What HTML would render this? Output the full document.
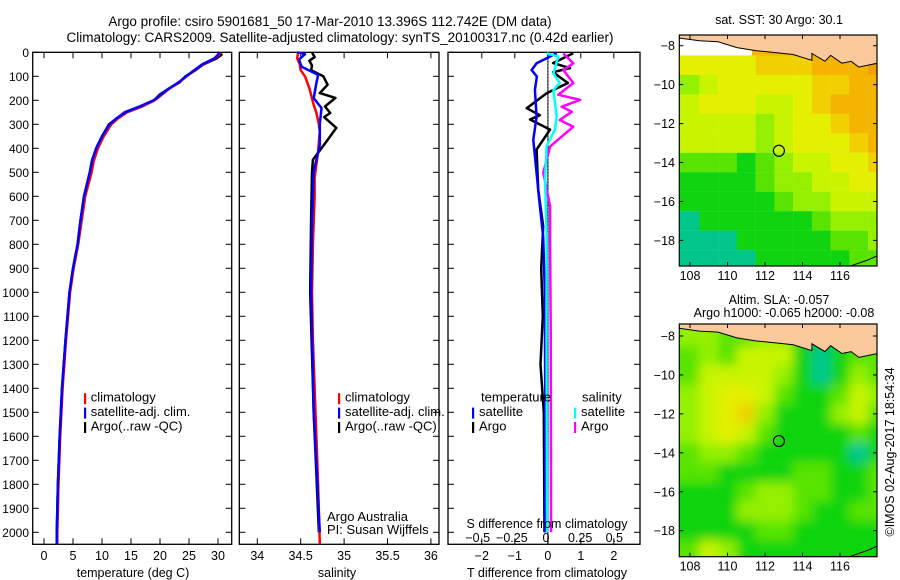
<!DOCTYPE html>
<html><head><meta charset="utf-8"><style>
html,body{margin:0;padding:0;background:#fff;}
svg{display:block;font-family:"Liberation Sans",sans-serif;}
</style></head><body>
<svg id="c" width="900" height="580" viewBox="0 0 900 580" xmlns="http://www.w3.org/2000/svg"></svg>
<script>
// ---------- data ----------
const tDepth=[0,10,25,50,75,100,125,150,175,200,225,250,275,300,350,400,450,500,600,700,800,900,1000,1200,1400,1600,1800,2000,2050];
const tClim=[30.3,30.2,29.5,27.4,26,24.6,23.3,21.7,20.4,19.1,17,14.3,12.8,11.6,10.3,9.3,8.6,8.2,7.1,6.5,5.9,5.1,4.5,3.8,3.2,2.8,2.5,2.3,2.3];
const tSat=[30.2,30.0,29.4,27.3,25.9,24.5,23.2,21.6,20.2,18.9,16.6,14.0,12.5,11.3,10.0,9.0,8.3,7.9,6.9,6.3,5.8,5.0,4.4,3.7,3.1,2.7,2.4,2.2,2.2];
const tArgo=[30.0,30.6,29.8,27.5,26.1,24.4,23.4,21.6,20.0,19.0,16.6,13.9,12.6,11.2,10.0,9.0,8.3,7.9,6.9,6.3,5.8,5.0,4.4,3.7,3.1,2.7,2.4,2.2,2.2];

const sClimD=[0,25,50,75,100,150,219,250,300,330,414,524,600,800,1000,1200,1500,1800,2050];
const sClim=[34.47,34.46,34.49,34.5,34.55,34.6,34.65,34.68,34.71,34.72,34.7,34.66,34.66,34.64,34.63,34.64,34.67,34.70,34.72];
const sSatD=[0,8,30,60,94,130,191,232,300,386,497,700,1000,1500,2000];
const sSat=[34.46,34.55,34.48,34.51,34.7,34.68,34.65,34.74,34.72,34.72,34.65,34.63,34.62,34.65,34.72];
const sArgoD=[0,20,35,55,75,100,135,170,190,226,253,270,315,380,448,500,700,1000,1500,2000];
const sArgo=[34.63,34.66,34.6,34.63,34.62,34.76,34.81,34.72,34.9,34.78,34.84,34.77,34.91,34.78,34.64,34.63,34.62,34.61,34.65,34.71];

const dtSatD=[4,46,74,101,157,268,365,504,643,768,1000,1400,2000];
const dtSat=[0.27,-0.34,-0.49,-0.33,-0.39,-0.34,-0.44,-0.34,-0.24,-0.14,-0.09,-0.08,-0.08];
const dtArgoD=[4,45,66,83,128,170,233,262,280,322,405,572,726,900,1100,1300,1500,2000];
const dtArgo=[0.77,0.16,0.67,0.16,0.61,-0.03,-0.64,-0.24,-0.54,0.07,-0.34,-0.29,-0.14,-0.2,-0.15,-0.22,-0.12,-0.1];
const dsSatD=[4,18,88,128,157,268,322,390,530,760,1200,2000];
const dsSat=[0.005,0.09,0.054,0.1,0.054,0.078,0.066,0.005,-0.007,0.005,0.004,0.007];
const dsArgoD=[4,46,74,128,177,198,227,248,282,310,392,502,642,782,1200,2000];
const dsArgo=[0.127,0.2,0.127,0.2,0.09,0.25,0.115,0.188,0.1,0.2,0.03,-0.02,0.03,0.03,0.035,0.037];

const depthTicks=[0,100,200,300,400,500,600,700,800,900,1000,1100,1200,1300,1400,1500,1600,1700,1800,1900,2000];
const tTicks=[0,5,10,15,20,25,30];
const sTicks=[34,34.5,35,35.5,36];
const tdTicks=[-2,-1,0,1,2];
const sdTicks=[-0.5,-0.25,0,0.25,0.5];
const sdTickLabels=["\u22120.5","\u22120.25","0","0.25","0.5"];
const latTicks=[-8,-10,-12,-14,-16,-18];
const lonTicks=[108,110,112,114,116];

// map grids: rows lat -8..-19, cols lon 107.5..118 (1 degree cells), colour classes
const sstGrid=[
[6,6,6,7,7,7,7,7,8,8,8],
[5,5,5,5,6,6,6,7,7,7,8],
[3,4,5,5,5,5,5,6,6,7,7],
[4,5,5,5,4,4,5,6,7,7,7],
[4,4,4,4,3,4,5,5,6,7,7],
[4,4,4,4,3,4,5,5,5,6,7],
[2,2,2,1,2,3,4,4,5,5,6],
[1,1,1,1,2,3,3,4,4,5,5],
[1,1,1,1,1,2,3,3,4,4,4],
[0,1,1,1,1,1,1,2,3,3,3],
[0,0,0,1,1,1,1,1,2,2,3],
[0,0,0,0,1,1,1,1,1,2,2]];
const slaGrid=[
[3,3,2,2,3,3,1,1,1,1,2],
[2,3,2,4,4,4,1,0,1,2,2],
[2,4,4,4,4,3,1,0,1,3,2],
[3,4,5,5,4,2,1,1,2,4,3],
[3,4,5,6,3,1,1,1,3,4,2],
[3,4,5,4,2,1,1,1,1,2,1],
[2,3,3,2,1,1,1,1,1,0,1],
[2,2,1,1,1,1,2,2,1,1,2],
[1,1,1,2,3,3,2,2,1,1,2],
[1,1,1,3,3,3,2,1,1,2,2],
[1,1,1,1,2,2,1,1,1,1,1],
[2,4,3,1,1,1,1,1,1,1,1]];
const palette=["#00c68c","#10d410","#58e400","#94f000","#c8f400","#e4f000","#f0d000","#f4b400","#f0a000"];
const argoLon=112.742, argoLat=-13.396;

// ---------- helpers ----------
const NS="http://www.w3.org/2000/svg";
const svg=document.getElementById('c');
function mk(tag,attrs,parent){const e=document.createElementNS(NS,tag);for(const k in attrs)e.setAttribute(k,attrs[k]);(parent||svg).appendChild(e);return e;}
function txt(x,y,s,anchor,size,parent){const e=mk('text',{x:x,y:y,'font-size':size||13,'text-anchor':anchor||'start',fill:'#000'},parent);e.textContent=s;return e;}

const yTop=52.3, pxPerM=0.24;
const yD=d=>yTop+d*pxPerM;
const yBot=544.3;
const xT=v=>44+v*5.8;
const xS=v=>257.3+(v-34)*86.8;
const xTD=v=>547.8+v*33;
const xSD=v=>546+v*136.6;

function line(depths,vals,xf,color,name,w){
  let p='';for(let i=0;i<depths.length;i++){p+=(i?'L':'M')+xf(vals[i]).toFixed(1)+','+yD(depths[i]).toFixed(1);}
  const e=mk('path',{d:p,fill:'none',stroke:color,'stroke-width':w||2.5,'stroke-linejoin':'round'});
  
  
  return e;
}
function frame(x0,x1,name,xticks,xf){
  const g=mk('g',{});
  
  
  mk('rect',{x:x0,y:yTop,width:x1-x0,height:yBot-yTop,fill:'none',stroke:'#000','stroke-width':1.3},g);
  depthTicks.forEach(d=>{const y=yD(d);mk('line',{x1:x0,y1:y,x2:x0+6,y2:y,stroke:'#000'},g);mk('line',{x1:x1-6,y1:y,x2:x1,y2:y,stroke:'#000'},g);});
  xticks.forEach(v=>{const x=xf(v);mk('line',{x1:x,y1:yBot,x2:x,y2:yBot-6,stroke:'#000'},g);mk('line',{x1:x,y1:yTop,x2:x,y2:yTop+6,stroke:'#000'},g);});
  return g;
}

// titles
const t1=txt(330,26,'Argo profile: csiro 5901681_50 17-Mar-2010 13.396S 112.742E (DM data)','middle',13.5);

const t2=txt(340,42,'Climatology: CARS2009. Satellite-adjusted climatology: synTS_20100317.nc (0.42d earlier)','middle',13.5);


// depth labels
depthTicks.forEach(d=>{const e=txt(29,yD(d)+4.5,String(d),'end',12);
});

// panel 1 temperature
frame(32.7,231.7,'temperature-panel',tTicks,xT);
line(tDepth,tArgo,xT,'#000','temp-argo-line');
line(tDepth,tClim,xT,'#f00','temp-climatology-line');
line(tDepth,tSat,xT,'#00f','temp-satellite-line');
tTicks.forEach(v=>{const e=txt(xT(v),560,String(v),'middle',12.5);});
const xl1=txt(133,577,'temperature (deg C)','middle',12.5);

function legend(x,tx,items,name){
  const g=mk('g',{});
  
  
  items.forEach((it,i)=>{const yb=401.7+i*14.4;mk('rect',{x:x,y:yb-8.5,width:2.2,height:11,fill:it[0]},g);txt(tx,yb,it[1],'start',13,g);});
}
legend(84,90.7,[['#f00','climatology'],['#00f','satellite-adj. clim.'],['#000','Argo(..raw -QC)']],'temperature-legend');

// panel 2 salinity
frame(239.3,439,'salinity-panel',sTicks,xS);
line(sArgoD,sArgo,xS,'#000','salinity-argo-line');
line(sClimD,sClim,xS,'#f00','salinity-climatology-line');
line(sSatD,sSat,xS,'#00f','salinity-satellite-line');
sTicks.forEach(v=>{const e=txt(xS(v),560,String(v),'middle',12.5);});
const xl2=txt(337,577,'salinity','middle',12.5);
legend(338,345,[['#f00','climatology'],['#00f','satellite-adj. clim.'],['#000','Argo(..raw -QC)']],'salinity-legend');
const cr1=txt(327,521,'Argo Australia','start',13);
const cr2=txt(327,534,'PI: Susan Wijffels','start',13);

// panel 3 differences
frame(448,640,'difference-panel',tdTicks,xTD);
for(let d=0;d<=2050;d+=6){mk('rect',{x:547.3,y:yD(d),width:1.2,height:1.2,fill:'#000'});}
line(dtArgoD,dtArgo,xTD,'#000','tdiff-argo-line');
line(dtSatD,dtSat,xTD,'#00f','tdiff-satellite-line');
line(dsArgoD,dsArgo,xSD,'#f0f','sdiff-argo-line');
line(dsSatD,dsSat,xSD,'#0ff','sdiff-satellite-line');
tdTicks.forEach(v=>{const e=txt(xTD(v),560,String(v).replace('-','\u2212'),'middle',12.5);});
sdTicks.forEach((v,i)=>{const e=txt(xSD(v),542,sdTickLabels[i],'middle',12.5);});
const xl3=txt(547,577,'T difference from climatology','middle',12.5);
const xl4=txt(547,528,'S difference from climatology','middle',12.5);
{
  const g=mk('g',{});
  
  
  txt(481,401.7,'temperature','start',13,g);txt(582,401.7,'salinity','start',13,g);
  mk('rect',{x:472,y:407.6,width:2.2,height:11,fill:'#00f'},g);txt(479,416,'satellite','start',13,g);
  mk('rect',{x:574,y:407.6,width:2.2,height:11,fill:'#0ff'},g);txt(581,416,'satellite','start',13,g);
  mk('rect',{x:472,y:422,width:2.2,height:11,fill:'#000'},g);txt(479,430.5,'Argo','start',13,g);
  mk('rect',{x:574,y:422,width:2.2,height:11,fill:'#f0f'},g);txt(581,430.5,'Argo','start',13,g);
}

// ---------- maps ----------
function drawMap(y0,y1,latY0,grid,name,blur,whiteNoData){
  const x0=679.3,x1=877;
  const lonX=l=>690+(l-108)*18.75;
  const latY=la=>latY0+(-8-la)*19.47;
  const g=mk('g',{});
  
  
  const cid='clip'+name;
  const cp=mk('clipPath',{id:cid},g);mk('rect',{x:x0,y:y0,width:x1-x0,height:y1-y0},cp);
  const inner=mk('g',{'clip-path':'url(#'+cid+')'},g);
  if(blur){const f=mk('filter',{id:'bl'+name,x:'-10%',y:'-10%',width:'120%',height:'120%'},g);mk('feGaussianBlur',{stdDeviation:5.5},f);}
  const cells=mk('g',blur?{filter:'url(#bl'+name+')'}:{},inner);
  grid.forEach((row,r)=>row.forEach((v,c)=>{
    const lon=107.5+c, lat=-7.5-r;
    const cell=mk('rect',{x:lonX(lon)-(c===0?25:0),y:latY(lat+ (r===0?1.5:0)),width:18.9+(c===0?25:0)+(c===row.length-1?25:0),height:19.6+(r===0?30:0)+(r===grid.length-1?30:0),fill:palette[v]},cells);
    
  }));
  if(whiteNoData){mk('rect',{x:x0,y:y0,width:lonX(111.3)-x0,height:latY(-8.5)-y0,fill:'#fff'},inner);}
  const land=[[107,-7],[107,-7.55],[108.5,-7.75],[109.5,-7.8],[110.5,-8.1],[111.5,-8.25],[112.5,-8.35],[113.5,-8.45],[114.5,-8.75],[114.5,-8.4],[115.2,-8.8],[115.5,-8.5],[116.1,-8.9],[116.6,-8.8],[117,-9.1],[118,-8.9],[118.5,-8.7],[118.5,-7]];
  const lp=mk('polygon',{points:land.map(p=>lonX(p[0]).toFixed(1)+','+latY(p[1]).toFixed(1)).join(' '),fill:'#f9c99c',stroke:'#000','stroke-width':1},inner);
  
  mk('polyline',{points:[[116.3,-19.4],[117.5,-19],[118.2,-18.7]].map(p=>lonX(p[0])+','+latY(p[1])).join(' '),fill:'none',stroke:'#000'},inner);
  const circ=mk('circle',{cx:lonX(argoLon),cy:latY(argoLat),r:5.5,fill:'none',stroke:'#000','stroke-width':1.2},g);
  
  mk('rect',{x:x0,y:y0,width:x1-x0,height:y1-y0,fill:'none',stroke:'#000','stroke-width':1.2},g);
  latTicks.forEach(la=>{const y=latY(la);mk('line',{x1:x0,y1:y,x2:x0+4,y2:y,stroke:'#000'},g);mk('line',{x1:x1-4,y1:y,x2:x1,y2:y,stroke:'#000'},g);
    const e=txt(675,y+4.5,String(la).replace('-','\u2212'),'end',12.5,g);});
  lonTicks.forEach(lo=>{const x=lonX(lo);mk('line',{x1:x,y1:y0,x2:x,y2:y0+4,stroke:'#000'},g);mk('line',{x1:x,y1:y1,x2:x,y2:y1-4,stroke:'#000'},g);
    const e=txt(x,y1+14,String(lo),'middle',12.5,g);});
}
drawMap(35,266,45.7,sstGrid,'sst-map',false,true);
drawMap(324,556.7,336,slaGrid,'sla-map',true,false);
const mt1=txt(779,24,'sat. SST: 30 Argo: 30.1','middle',12.5);
const mt2=txt(779,304,'Altim. SLA: -0.057','middle',12.5);
const mt3=txt(784,317,'Argo h1000: -0.065 h2000: -0.08','middle',12.5);
const stamp=txt(0,0,'\u00a9IMOS 02-Aug-2017 18:54:34','middle',12.5);
stamp.setAttribute('transform','translate(894,452) rotate(-90)');

</script>
</body></html>
